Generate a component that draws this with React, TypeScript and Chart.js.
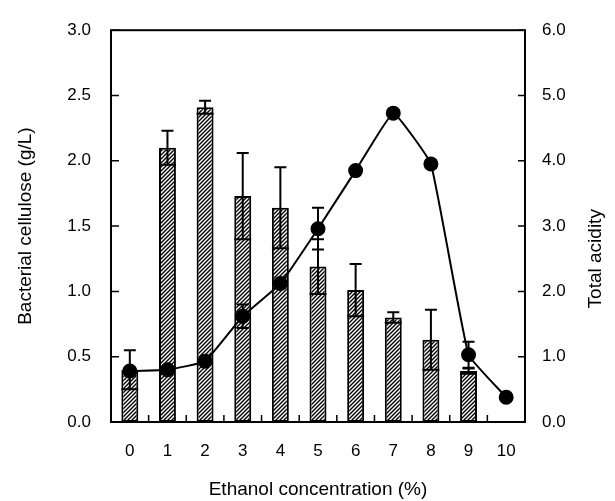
import React, { useEffect, useRef } from 'react';
import { Chart, registerables } from 'chart.js';

Chart.register(...registerables);

const categories = ['0', '1', '2', '3', '4', '5', '6', '7', '8', '9', '10'];
const celluloseValues = [0.40, 2.10, 2.41, 1.73, 1.64, 1.19, 1.01, 0.80, 0.63, 0.39, 0];
const celluloseErrors = [0.15, 0.13, 0.05, 0.33, 0.31, 0.21, 0.20, 0.04, 0.23, 0.02, 0];
const acidityValues = [0.78, 0.80, 0.93, 1.62, 2.12, 2.96, 3.85, 4.73, 3.95, 1.03, 0.38];
const acidityErrors = [0.05, 0.03, 0.04, 0.18, 0.06, 0.32, 0.04, 0.04, 0.06, 0.20, 0.04];
const leftTicks = [0, 0.5, 1.0, 1.5, 2.0, 2.5, 3.0];
const rightTicks = [0, 1, 2, 3, 4, 5, 6];
const rightTitle = 'Total acidity';

const FONT = 'Arial, "Liberation Sans", Helvetica, sans-serif';

function makeHatch(): CanvasPattern | string {
  const c = document.createElement('canvas');
  c.width = 4;
  c.height = 4;
  const g = c.getContext('2d');
  if (!g) return '#888';
  g.fillStyle = '#ffffff';
  g.fillRect(0, 0, 4, 4);
  g.strokeStyle = '#000000';
  g.lineWidth = 1.4;
  g.beginPath();
  g.moveTo(-1, 5);
  g.lineTo(5, -1);
  g.moveTo(-1, 1);
  g.lineTo(1, -1);
  g.moveTo(3, 5);
  g.lineTo(5, 3);
  g.stroke();
  const p = g.createPattern(c, 'repeat');
  return p || '#888';
}

const framePlugin = {
  id: 'frameAndErrors',
  afterDatasetsDraw(chart: any) {
    const ctx = chart.ctx as CanvasRenderingContext2D;
    const area = chart.chartArea;
    const xs = chart.scales.x;
    const ys = chart.scales.y;
    const y1 = chart.scales.y1;
    ctx.save();
    ctx.strokeStyle = '#000';
    ctx.lineCap = 'butt';

    // error bars for bars
    const barMeta = chart.getDatasetMeta(0);
    ctx.lineWidth = 2;
    celluloseValues.forEach((v, i) => {
      const e = celluloseErrors[i];
      if (!e) return;
      const el = barMeta.data[i];
      const cx = el.x;
      const bw = el.width;
      const yt = ys.getPixelForValue(v + e);
      const yb = ys.getPixelForValue(v - e);
      ctx.beginPath();
      ctx.moveTo(cx, yt);
      ctx.lineTo(cx, yb);
      ctx.moveTo(cx - 6, yt);
      ctx.lineTo(cx + 6, yt);
      ctx.moveTo(cx - bw / 2, yb);
      ctx.lineTo(cx + bw / 2, yb);
      ctx.stroke();
    });

    // error bars for points
    const lineMeta = chart.getDatasetMeta(1);
    acidityValues.forEach((v, i) => {
      const e = acidityErrors[i];
      if (!e) return;
      const el = lineMeta.data[i];
      const cx = el.x;
      const yt = y1.getPixelForValue(v + e);
      const yb = y1.getPixelForValue(v - e);
      ctx.beginPath();
      ctx.moveTo(cx, yt);
      ctx.lineTo(cx, yb);
      ctx.moveTo(cx - 6, yt);
      ctx.lineTo(cx + 6, yt);
      ctx.moveTo(cx - 6, yb);
      ctx.lineTo(cx + 6, yb);
      ctx.stroke();
    });

    // frame
    ctx.lineWidth = 2;
    ctx.strokeRect(area.left, area.top, area.right - area.left, area.bottom - area.top);

    // inward ticks
    ctx.lineWidth = 1.5;
    ctx.beginPath();
    leftTicks.forEach((t) => {
      const py = ys.getPixelForValue(t);
      ctx.moveTo(area.left, py);
      ctx.lineTo(area.left + 8, py);
    });
    rightTicks.forEach((t) => {
      const py = y1.getPixelForValue(t);
      ctx.moveTo(area.right, py);
      ctx.lineTo(area.right - 7, py);
    });
    for (let i = 1; i < categories.length; i++) {
      const bx = (xs.getPixelForValue(i - 1) + xs.getPixelForValue(i)) / 2;
      ctx.moveTo(bx, area.bottom);
      ctx.lineTo(bx, area.bottom - 7);
    }
    ctx.stroke();

    // right axis title, reading bottom-to-top
    ctx.fillStyle = '#000';
    ctx.font = '19px ' + FONT;
    ctx.textAlign = 'center';
    ctx.textBaseline = 'middle';
    ctx.translate(y1.right - 19, y1.getPixelForValue(2.5));
    ctx.rotate(-Math.PI / 2);
    ctx.fillText(rightTitle, 0, 0);
    ctx.restore();
  },
};

export default function App() {
  const ref = useRef<HTMLCanvasElement | null>(null);

  useEffect(() => {
    document.body.style.margin = '0';
    const canvas = ref.current;
    if (!canvas) return;
    const hatch = makeHatch();
    const chart = new Chart(canvas, {
      type: 'bar',
      data: {
        labels: categories,
        datasets: [
          {
            type: 'bar',
            label: 'Bacterial cellulose',
            data: celluloseValues,
            backgroundColor: hatch as any,
            borderColor: '#000',
            borderWidth: 2,
            borderSkipped: false,
            barPercentage: 0.45,
            categoryPercentage: 1,
            yAxisID: 'y',
            order: 2,
          } as any,
          {
            type: 'line',
            label: 'Total acidity',
            data: acidityValues,
            borderColor: '#000',
            borderWidth: 2,
            backgroundColor: '#000',
            pointBackgroundColor: '#000',
            pointBorderColor: '#000',
            pointRadius: 6.5,
            pointHoverRadius: 6.5,
            tension: 0.1,
            fill: false,
            yAxisID: 'y1',
            order: 1,
          } as any,
        ],
      },
      options: {
        responsive: false,
        animation: false,
        layout: { padding: { top: 20, left: 0, right: 0, bottom: 0 } },
        plugins: {
          legend: { display: false },
          tooltip: { enabled: false },
        },
        scales: {
          x: {
            type: 'category',
            offset: true,
            grid: { display: false, drawTicks: false },
            border: { display: false },
            ticks: {
              color: '#000',
              font: { family: FONT, size: 17 },
              padding: 19,
              maxRotation: 0,
            },
            title: {
              display: true,
              text: 'Ethanol concentration (%)',
              color: '#000',
              font: { family: FONT, size: 19 },
              padding: { top: 0, bottom: 0 },
            },
            afterFit(scale: any) {
              scale.height = 79;
            },
          },
          y: {
            type: 'linear',
            position: 'left',
            min: 0,
            max: 3,
            grid: { display: false, drawTicks: false },
            border: { display: false },
            ticks: {
              stepSize: 0.5,
              color: '#000',
              font: { family: FONT, size: 17 },
              padding: 20,
              callback: (v: any) => Number(v).toFixed(1),
            },
            title: {
              display: true,
              text: 'Bacterial cellulose (g/L)',
              color: '#000',
              font: { family: FONT, size: 19 },
              padding: { top: 14, bottom: 0 },
            },
            afterFit(scale: any) {
              scale.width = 111;
            },
          },
          y1: {
            type: 'linear',
            position: 'right',
            min: 0,
            max: 6,
            grid: { display: false, drawTicks: false },
            border: { display: false },
            ticks: {
              stepSize: 1,
              color: '#000',
              font: { family: FONT, size: 17 },
              padding: 17,
              callback: (v: any) => Number(v).toFixed(1),
            },
            title: { display: false },
            afterFit(scale: any) {
              scale.width = 90;
            },
          },
        },
      },
      plugins: [framePlugin],
    });
    return () => chart.destroy();
  }, []);

  return <canvas ref={ref} width={615} height={501} style={{ display: 'block' }} />;
}
